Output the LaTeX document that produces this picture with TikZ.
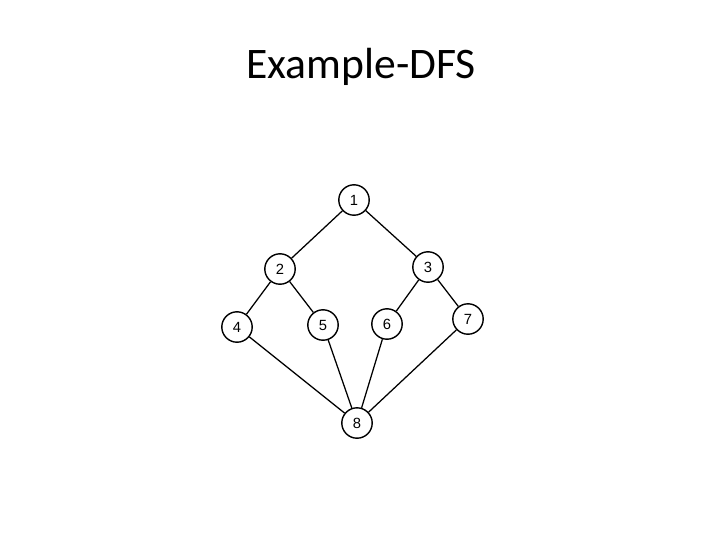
\documentclass[tikz,border=0pt]{standalone}
\usepackage{fontspec}
\setmainfont{Carlito}
\newfontfamily\numfont{Liberation Sans}
\begin{document}
\begin{tikzpicture}[x=0.025cm,y=-0.025cm,
    vert/.style={circle, draw, line width=1pt, minimum size=0.76cm, inner sep=0pt, font=\numfont\fontsize{10.5}{12}\selectfont},
    edge/.style={line width=0.9pt}]
        \useasboundingbox (0,0) rectangle (720,540);
        \node[font=\fontsize{31}{36}\selectfont, anchor=base] (title) at (361,78) {Example-DFS};
        \node[vert] (n1) at (354,200) {1};
        \node[vert] (n2) at (280,269) {2};
        \node[vert] (n3) at (428,267) {3};
        \node[vert] (n4) at (237,327) {4};
        \node[vert] (n5) at (323,325) {5};
        \node[vert] (n6) at (387,324) {6};
        \node[vert] (n7) at (468,319) {7};
        \node[vert] (n8) at (357,423) {8};
        \draw[edge] (n1) -- (n2);
        \draw[edge] (n1) -- (n3);
        \draw[edge] (n2) -- (n4);
        \draw[edge] (n2) -- (n5);
        \draw[edge] (n3) -- (n6);
        \draw[edge] (n3) -- (n7);
        \draw[edge] (n4) -- (n8);
        \draw[edge] (n5) -- (n8);
        \draw[edge] (n6) -- (n8);
        \draw[edge] (n7) -- (n8);
    \end{tikzpicture}
\end{document}
